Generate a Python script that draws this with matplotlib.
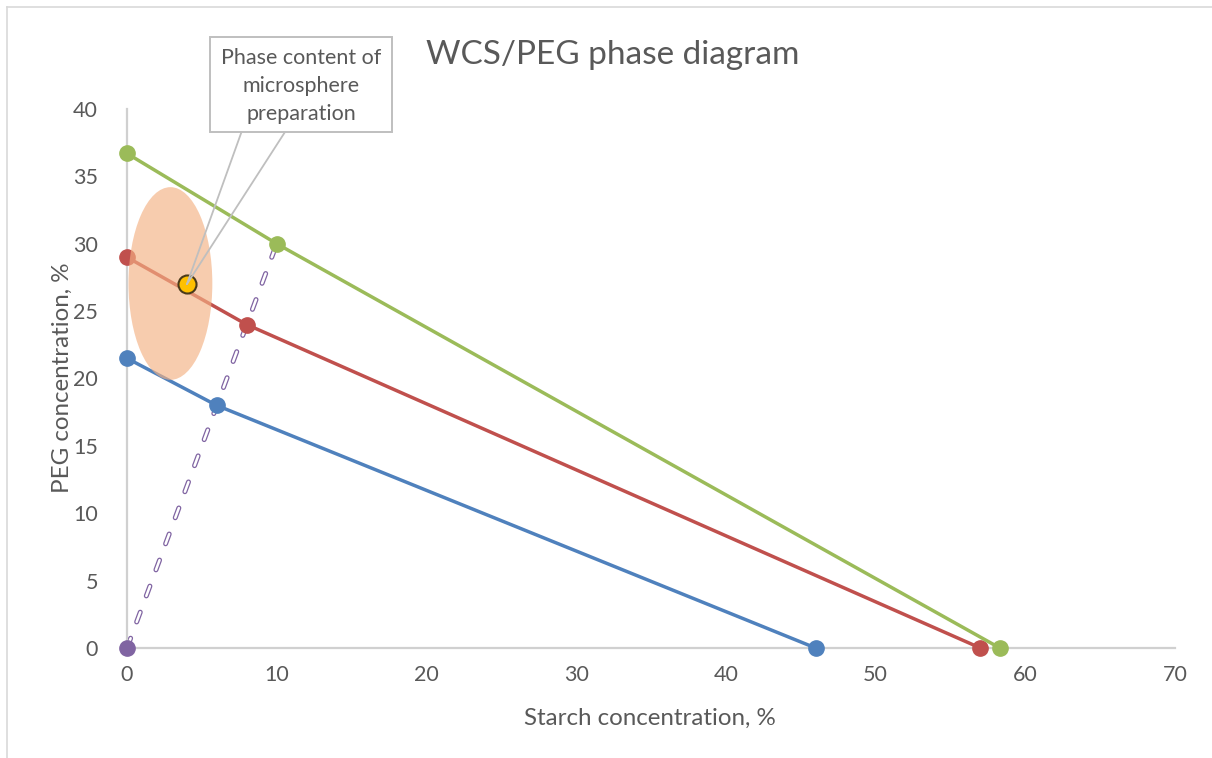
import matplotlib
matplotlib.use("Agg")
import matplotlib.pyplot as plt
from matplotlib.patches import Ellipse, Rectangle, ConnectionPatch
from matplotlib.lines import Line2D

plt.rcParams['font.family'] = ['Lato', 'DejaVu Sans']
plt.rcParams['lines.scale_dashes'] = False

# Data
blue_x = [0, 6, 46]
blue_y = [21.5, 18, 0]
red_x = [0, 8, 57]
red_y = [29, 24, 0]
green_x = [0, 10, 58.3]
green_y = [36.7, 30, 0]
purple_x = [0, 10]
purple_y = [0, 30]
prep_x = [4]
prep_y = [27]
ellipse_center = (2.9, 27.05)
ellipse_size = (5.6, 14.3)

title = "WCS/PEG phase diagram"
xlabel = "Starch concentration, %"
ylabel = "PEG concentration, %"
callout = "Phase content of\nmicrosphere\npreparation"
xticks = [0, 10, 20, 30, 40, 50, 60, 70]
yticks = [0, 5, 10, 15, 20, 25, 30, 35, 40]

TXT = '#595959'
GRAY = '#BFBFBF'

fig = plt.figure(figsize=(12.12, 7.58), dpi=100)
W, H = 1212, 758
ax = fig.add_axes([127 / W, 1 - 648 / H, (1175 - 127) / W, (648 - 109) / H])
ax.set_xlim(0, 70)
ax.set_ylim(0, 40)

for s in ['top', 'right']:
    ax.spines[s].set_visible(False)
for s in ['left', 'bottom']:
    ax.spines[s].set_color('#D0D0D0')
    ax.spines[s].set_linewidth(1.6)
ax.tick_params(length=0, labelsize=15.5, labelcolor=TXT)
ax.tick_params(axis='y', pad=21)
ax.tick_params(axis='x', pad=12)
ax.set_xticks(xticks)
ax.set_yticks(yticks)

lw = 2.5
ms = 11
for xs, ys, c in [(blue_x, blue_y, '#4F81BD'), (red_x, red_y, '#C0504D'), (green_x, green_y, '#9BBB59')]:
    ax.plot(xs, ys, color=c, lw=lw, marker='o', ms=ms, clip_on=False, zorder=3)

# hollow dashed purple line
ax.plot(purple_x, purple_y, color='#8064A2', lw=3.6, dashes=(7.5, 12.5),
        dash_capstyle='round', zorder=2, clip_on=False)
ax.plot(purple_x, purple_y, color='white', lw=1.8, dashes=(7.5, 12.5),
        dash_capstyle='round', zorder=2.1, clip_on=False)
ax.plot(purple_x[:1], purple_y[:1], 'o', color='#8064A2', ms=ms, clip_on=False, zorder=3)

ell = Ellipse(ellipse_center, ellipse_size[0], ellipse_size[1], facecolor='#F4B183',
              edgecolor='none', alpha=0.65, zorder=4)
ax.add_patch(ell)

ax.plot(prep_x, prep_y, 'o', color='#FFC000', mec='#4A3A1A', mew=1.5, ms=13, zorder=5)

# callout box
bx0, by0, bx1, by1 = 210, 37, 392, 132
fig.patches.append(Rectangle((bx0 / W, 1 - by1 / H), (bx1 - bx0) / W, (by1 - by0) / H,
                             transform=fig.transFigure, facecolor='white', edgecolor=GRAY, lw=1.4))
fig.text((bx0 + bx1) / 2 / W, 1 - 86 / H, callout, ha='center', va='center',
         fontsize=15.5, color=TXT, linespacing=1.5)
for fx in (241.5, 285):
    cp = ConnectionPatch(xyA=(fx / W, 1 - by1 / H), coordsA=fig.transFigure,
                         xyB=(prep_x[0], prep_y[0]), coordsB=ax.transData,
                         color=GRAY, lw=1.3, zorder=6)
    fig.add_artist(cp)

fig.text(613 / W, 1 - 55 / H, title, ha='center', va='center', fontsize=24, color=TXT)
fig.text(650 / W, 1 - 718 / H, xlabel, ha='center', va='center', fontsize=17.4, color=TXT)
fig.text(62 / W, 1 - 378 / H, ylabel, ha='center', va='center', fontsize=17.4, color=TXT, rotation=90)

# chart border (partial)
fig.add_artist(Line2D([7 / W, 7 / W], [0, 1 - 7 / H], transform=fig.transFigure, color='#D9D9D9', lw=1.2))
fig.add_artist(Line2D([7 / W, 1], [1 - 7 / H, 1 - 7 / H], transform=fig.transFigure, color='#D9D9D9', lw=1.2))

fig.savefig('out.png', dpi=100)
